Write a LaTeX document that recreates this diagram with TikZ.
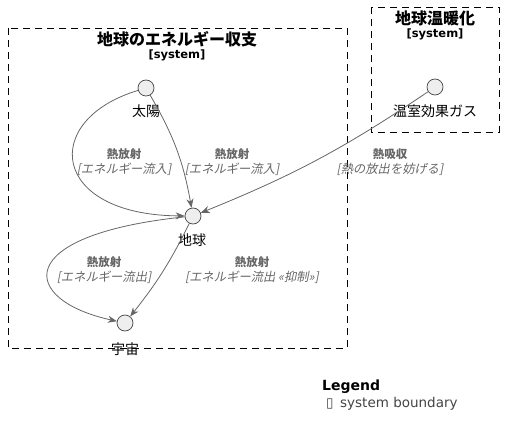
\documentclass[tikz,border=0pt]{standalone}
\usepackage{fontspec}
\setmainfont{DejaVu Sans}
\newfontfamily\jpfont{Noto Sans CJK JP}[ItalicFont={Noto Sans CJK JP},ItalicFeatures={FakeSlant=0.2}]
\usetikzlibrary{arrows.meta}

\tikzset{
  bound/.style={draw={rgb,255:red,0;green,0;blue,0},line width=0.9pt,dash pattern={on 7pt off 5pt}},
  person/.style={circle,draw={rgb,255:red,68;green,68;blue,68},fill={rgb,255:red,238;green,238;blue,238},line width=0.7pt,minimum size=16pt,inner sep=0pt},
  rel/.style={draw={rgb,255:red,102;green,102;blue,102},line width=0.8pt,-{Stealth[length=9pt,width=7pt]}},
  rellbl/.style={align=center,inner sep=0pt,text={rgb,255:red,102;green,102;blue,102},font=\jpfont\fontsize{11.5}{15}\selectfont},
  nodelbl/.style={inner sep=0pt,font=\jpfont\fontsize{14}{16}\selectfont},
}
\newcommand{\relnote}[2]{{\bfseries #1}\\{\itshape\fontsize{12.3}{15}\selectfont #2}}

\begin{document}
\begin{tikzpicture}[x=1pt,y=-1pt]
\useasboundingbox (0,0) rectangle (505,438);

%Shape: Boundary [id:energy]
\draw [bound] (8,28) rectangle (347,348);
\node [inner sep=0pt,font=\jpfont\bfseries\fontsize{16}{18}\selectfont] (ttlA) at (177,39) {地球のエネルギー収支};
\node [inner sep=0pt,font=\bfseries\fontsize{11.5}{13}\selectfont] (sysA) at (177,55) {[system]};
%Shape: Boundary [id:warming]
\draw [bound] (371,7) rectangle (499,132);
\node [inner sep=0pt,font=\jpfont\bfseries\fontsize{16}{18}\selectfont] (ttlB) at (435,18) {地球温暖化};
\node [inner sep=0pt,font=\bfseries\fontsize{11.5}{13}\selectfont] (sysB) at (435,34) {[system]};

%Shape: Circle
\node [person] (sun) at (146,88) {};
\node [nodelbl] (sunlbl) at (146,111) {太陽};
\node [person] (gas) at (435,87) {};
\node [nodelbl] (gaslbl) at (435,111) {温室効果ガス};
\node [person] (earth) at (193,216) {};
\node [nodelbl] (earthlbl) at (192,240) {地球};
\node [person] (space) at (125,323) {};
\node [nodelbl] (spacelbl) at (125,349) {宇宙};

% Relations
\draw [rel] (sun) .. controls (40,120) and (50,215) .. (earth);
\draw [rel] (sun) to [bend left=10] (earth);
\draw [rel] (gas) to [bend left=6] (earth);
\draw [rel] (earth) .. controls (10,235) and (20,300) .. (space);
\draw [rel] (earth) to [bend left=6] (space);

% Text Node
\node [rellbl] (inA) at (124,162) {\relnote{熱放射}{[エネルギー流入]}};
\node [rellbl] (inB) at (232,162) {\relnote{熱放射}{[エネルギー流入]}};
\node [rellbl] (absorb) at (390,162) {\relnote{熱吸収}{[熱の放出を妨げる]}};
\node [rellbl] (outA) at (104,270) {\relnote{熱放射}{[エネルギー流出]}};
\node [rellbl] (outB) at (252,270) {\relnote{熱放射}{[エネルギー流出 «抑制»]}};

% Legend
\node [anchor=west,inner sep=0pt,font=\bfseries\fontsize{14}{16}\selectfont] (lgd) at (322,387) {Legend};
\node [anchor=west,inner sep=0pt,text={rgb,255:red,68;green,68;blue,68},font=\fontsize{13.5}{16}\selectfont] (lgdsys) at (326,404) {▯\ \,system boundary};
\end{tikzpicture}
\end{document}
